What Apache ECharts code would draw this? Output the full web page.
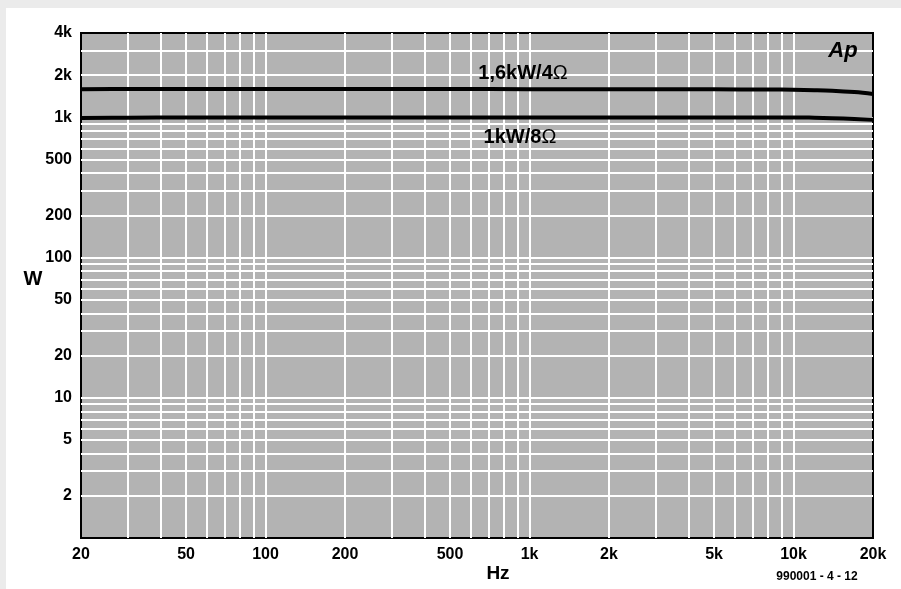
<!DOCTYPE html>
<html><head><meta charset="utf-8">
<script src="https://cdn.jsdelivr.net/npm/echarts@6/dist/echarts.min.js"></script>
<style>html,body{margin:0;padding:0;background:#fff}#c{width:901px;height:589px}</style>
</head><body><div id="c"></div>
<script>
// ---- data ----
const freqHz     = [20, 30, 50, 100, 200, 500, 1000, 2000, 5000, 8000, 10000, 12000, 14000, 17000, 20000];
const power4ohm  = [1590, 1595, 1595, 1595, 1595, 1595, 1590, 1590, 1585, 1580, 1575, 1565, 1550, 1515, 1470];
const power8ohm  = [990, 995, 1000, 1000, 1000, 1000, 1000, 1000, 1000, 1000, 1000, 995, 988, 975, 963];
const seriesNames = ['1,6kW/4\u03A9', '1kW/8\u03A9'];
const xTickLabels = [20, 50, 100, 200, 500, 1000, 2000, 5000, 10000, 20000];
const yTickLabels = [2, 5, 10, 20, 50, 100, 200, 500, 1000, 2000, 4000];
const xGridValues = [30, 40, 50, 60, 70, 80, 90, 100, 200, 300, 400, 500, 600, 700, 800, 900,
                     1000, 2000, 3000, 4000, 5000, 6000, 7000, 8000, 9000, 10000];
const yGridValues = [2, 3, 4, 5, 6, 7, 8, 9, 10, 20, 30, 40, 50, 60, 70, 80, 90,
                     100, 200, 300, 400, 500, 600, 700, 800, 900, 1000, 2000, 3000];

const fmt = v => (v >= 1000 ? (v / 1000) + 'k' : String(v));
const FONT = 'Liberation Sans, Arial, sans-serif';
// curve label: main part bold, the Ohm sign in regular weight
const richName = n => '{b|' + n.slice(0, -1) + '}{o|' + n.slice(-1) + '}';
const richStyle = {
  b: {fontFamily: FONT, fontWeight: 'bold', fontSize: 20, fill: '#000'},
  o: {fontFamily: FONT, fontWeight: 'normal', fontSize: 20, fill: '#000'}
};

const chart = echarts.init(document.getElementById('c'), null, {renderer: 'canvas'});
chart.setOption({
  animation: false,
  backgroundColor: '#ffffff',
  grid: {left: 81, top: 33, right: 28, bottom: 51, show: true,
         backgroundColor: '#b3b3b3', borderColor: '#000', borderWidth: 2},
  xAxis: {
    type: 'log', logBase: 10, min: 20, max: 20000,
    axisLine: {show: false}, axisTick: {show: false}, splitLine: {show: false}, minorSplitLine: {show: false},
    axisLabel: {customValues: xTickLabels, formatter: v => fmt(v), color: '#000', fontWeight: 'bold',
                fontSize: 16, fontFamily: FONT, margin: 9}
  },
  yAxis: {
    type: 'log', logBase: 10, min: 1, max: 4000,
    axisLine: {show: false}, axisTick: {show: false}, splitLine: {show: false}, minorSplitLine: {show: false},
    axisLabel: {customValues: yTickLabels, formatter: v => fmt(v), color: '#000', fontWeight: 'bold',
                fontSize: 16, fontFamily: FONT, margin: 9, padding: [0, 0, 3, 0]}
  },
  series: [
    {
      type: 'line', name: 'grid', data: [], z: 1, silent: true,
      markLine: {
        silent: true, symbol: 'none', animation: false,
        label: {show: false},
        lineStyle: {color: '#ffffff', width: 2, type: 'solid'},
        data: xGridValues.map(v => ({xAxis: v})).concat(yGridValues.map(v => ({yAxis: v})))
      }
    },
    {
      type: 'line', name: seriesNames[0], z: 5, smooth: 0.4, symbol: 'none',
      lineStyle: {color: '#000', width: 4},
      data: freqHz.map((f, i) => [f, power4ohm[i]])
    },
    {
      type: 'line', name: seriesNames[1], z: 5, smooth: 0.4, symbol: 'none',
      lineStyle: {color: '#000', width: 4},
      data: freqHz.map((f, i) => [f, power8ohm[i]])
    }
  ],
  graphic: [
    {type: 'rect', shape: {x: 0, y: 0, width: 901, height: 8}, style: {fill: '#ebebeb'}, z: 100},
    {type: 'rect', shape: {x: 0, y: 0, width: 6, height: 589}, style: {fill: '#ebebeb'}, z: 100},
    {type: 'text', x: 523, y: 73, z: 100, style: {text: richName(seriesNames[0]), rich: richStyle, fill: '#000', font: 'bold 20px ' + FONT, textAlign: 'center', textVerticalAlign: 'middle'}},
    {type: 'text', x: 520, y: 137, z: 100, style: {text: richName(seriesNames[1]), rich: richStyle, fill: '#000', font: 'bold 20px ' + FONT, textAlign: 'center', textVerticalAlign: 'middle'}},
    {type: 'text', x: 843, y: 51, z: 100, style: {text: 'Ap', fill: '#000', font: 'italic bold 22px ' + FONT, textAlign: 'center', textVerticalAlign: 'middle'}},
    {type: 'text', x: 33, y: 279, z: 100, style: {text: 'W', fill: '#000', font: 'bold 20px ' + FONT, textAlign: 'center', textVerticalAlign: 'middle'}},
    {type: 'text', x: 498, y: 574, z: 100, style: {text: 'Hz', fill: '#000', font: 'bold 19px ' + FONT, textAlign: 'center', textVerticalAlign: 'middle'}},
    {type: 'text', x: 817, y: 577, z: 100, style: {text: '990001 - 4 - 12', fill: '#000', font: 'bold 12px ' + FONT, textAlign: 'center', textVerticalAlign: 'middle'}}
  ]
});
</script></body></html>
